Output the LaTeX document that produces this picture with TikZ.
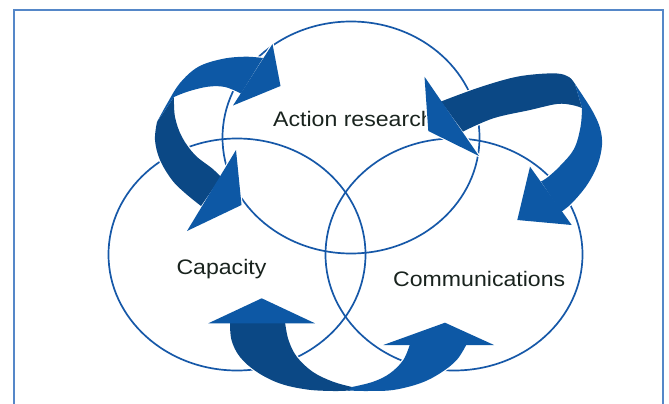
\documentclass[tikz,border=0pt]{standalone}
\usepackage{fontspec}
\setmainfont{Liberation Sans}[FakeStretch=1.1]
\usetikzlibrary{shapes.geometric}
\definecolor{arrlight}{RGB}{13,88,165}
\definecolor{arrdark}{RGB}{11,72,133}
\definecolor{ringblue}{RGB}{22,88,168}
\definecolor{framebl}{RGB}{85,135,200}
\definecolor{txtdark}{RGB}{25,35,30}
% arrow pieces (image pixel coordinates)
\newcommand\shpLAband{plot[smooth,tension=0.6] coordinates {(263,58) (245,56.7) (222,59) (198,67) (180,83) (168,102) (157,122)} -- plot[smooth,tension=0.6] coordinates {(174,97) (188,91.5) (208,86.7) (225,87) (241,93.5)} -- cycle}
\newcommand\shpLAhead{(272.5,44) -- (280.5,86) -- (233,105.5) -- cycle}
\newcommand\shpLDband{plot[smooth,tension=0.6] coordinates {(157,122) (155,140) (160,160) (172,180) (185,193) (201,206)} -- plot[smooth,tension=0.6] coordinates {(221,177) (212,168.3) (195,155) (182,137) (175,117) (174,97)} -- cycle}
\newcommand\shpLDhead{(236,150) -- (241.5,205) -- (187,231) -- cycle}
\newcommand\shpRDband{plot[smooth,tension=0.6] coordinates {(441,101.5) (476.7,88.3) (510,78.3) (533,74.5) (557,73.5) (569,77) (575,84)} -- plot[smooth,tension=0.6] coordinates {(582,108) (572,105) (557,104) (530,110) (493.3,118.3) (463,131.5)} -- cycle}
\newcommand\shpRDhead{(424.5,76.7) -- (428.3,131) -- (479,156) -- cycle}
\newcommand\shpRLband{plot[smooth,tension=0.6] coordinates {(575,84) (583,96) (593,112) (600,128) (602,145) (597.5,165) (587,185) (572,203) (561,212)} -- plot[smooth,tension=0.6] coordinates {(541,181.5) (548,177) (560,166) (574,149) (580.5,127) (582,108)} -- cycle}
\newcommand\shpRLhead{(530,166.7) -- (517.3,220) -- (571.7,225) -- cycle}
\newcommand\shpBDband{plot[smooth,tension=0.6] coordinates {(230,322) (231.5,340) (240,357) (257,372) (280,383.5) (307,389.5) (333,391) (350,390.5)} -- plot[smooth,tension=0.6] coordinates {(352,387) (333,381.7) (313,372) (297,357) (288.5,340) (285,322)} -- cycle}
\newcommand\shpBDhead{(208.3,323.3) -- (261.7,298.3) -- (315,323.3) -- cycle}
\newcommand\shpBLband{plot[smooth,tension=0.6] coordinates {(348,390.5) (367,391) (393,390) (420,383.3) (440,373.3) (456.7,360) (466.7,344)} -- plot[smooth,tension=0.6] coordinates {(410,344) (403.3,360) (390,373.3) (373.3,381.7) (352,387)} -- cycle}
\newcommand\shpBLhead{(383.3,345) -- (445,322.7) -- (494,345) -- cycle}
\begin{document}
\begin{tikzpicture}[x=1pt,y=-1pt,
  ring/.style={ellipse, draw=ringblue, line width=1.7pt, minimum width=257pt, minimum height=232pt, inner sep=0pt},
  lbl/.style={inner sep=0pt, anchor=base west, text=txtdark, font=\fontsize{21}{25}\selectfont},
  halo/.style={draw=white, line width=2.4pt, line join=round},
  pale/.style={fill=arrlight},
  deep/.style={fill=arrdark}]
\useasboundingbox (0,0) rectangle (669,404);
\fill[white] (0,0) rectangle (669,404);
% frame
\draw[framebl, line width=2pt] (14,410) -- (14,10) -- (663,10) -- (663,410);
% three rings
\node[ring] (ringtop) at (351,137.5) {};
\node[ring] (ringleft) at (237,254.5) {};
\node[ring] (ringright) at (454,254.5) {};
% labels
\node[lbl] (tact) at (273,126.5) {Action research};
\node[lbl] (tcap) at (176.3,274) {Capacity};
\node[lbl] (tcom) at (393,286) {Communications};
% white halos
\path[halo] \shpLAband; \path[halo] \shpLAhead;
\path[halo] \shpLDband; \path[halo] \shpLDhead;
\path[halo] \shpRDband; \path[halo] \shpRDhead;
\path[halo] \shpRLband; \path[halo] \shpRLhead;
\path[halo] \shpBDband; \path[halo] \shpBDhead;
\path[halo] \shpBLband; \path[halo] \shpBLhead;
% arrows
\path[deep] \shpLDband; \path[pale] \shpLAband;
\path[pale] \shpLAhead; \path[pale] \shpLDhead;
\path[deep] \shpRDband; \path[pale] \shpRLband;
\path[pale] \shpRDhead; \path[pale] \shpRLhead;
\path[deep] \shpBDband; \path[pale] \shpBLband;
\path[pale] \shpBDhead; \path[pale] \shpBLhead;
\end{tikzpicture}
\end{document}
